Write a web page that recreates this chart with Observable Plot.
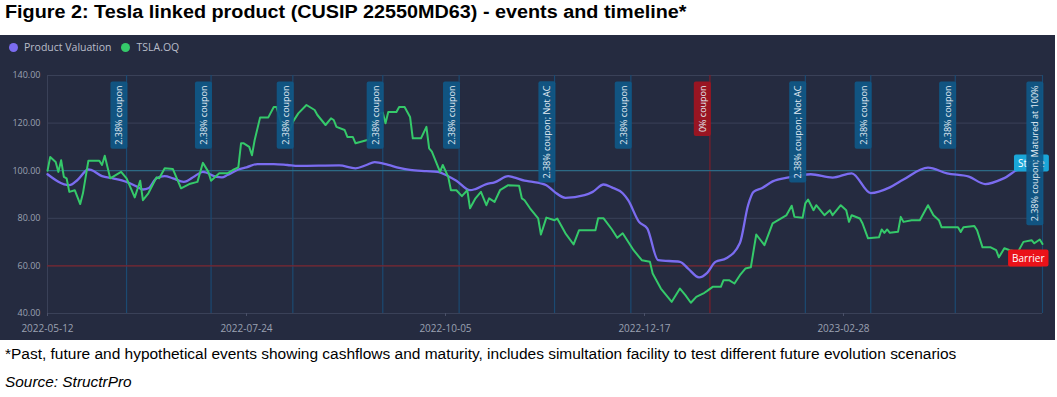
<!DOCTYPE html>
<html><head><meta charset="utf-8">
<script src="https://cdn.jsdelivr.net/npm/d3@7"></script>
<script src="https://cdn.jsdelivr.net/npm/@observablehq/plot@0.6"></script>
<style>
html,body{margin:0;padding:0;background:#fff;}
body{width:1057px;height:397px;position:relative;overflow:hidden;font-family:"Liberation Sans",Arial,sans-serif;}
#title{position:absolute;left:5px;top:2px;font-weight:bold;font-size:18px;color:#000;white-space:nowrap;transform:scaleX(1.1);transform-origin:0 0;}
#panel{position:absolute;left:0;top:35px;width:1055px;height:305px;background:#252b40;}
#legend{position:absolute;left:9px;top:5px;font-family:"Open Sans",sans-serif;font-size:10.5px;color:#b9bdc9;display:flex;align-items:center;white-space:nowrap;z-index:2;}
#legend .dot{display:inline-block;width:9px;height:9px;border-radius:50%;margin-right:6px;}
#legend .item{display:flex;align-items:center;margin-right:10px;}
#note{position:absolute;left:5px;top:346px;font-size:14px;color:#000;white-space:nowrap;transform:scaleX(1.105);transform-origin:0 0;}
#source{position:absolute;left:5px;top:374px;font-size:14px;font-style:italic;color:#000;white-space:nowrap;transform:scaleX(1.1);transform-origin:0 0;}
#err{position:absolute;left:300px;top:0;color:red;font-size:10px;}
</style>
</head><body>
<div id="title">Figure 2: Tesla linked product (CUSIP 22550MD63) - events and timeline*</div>
<div id="panel">
  <div id="legend"></div>
</div>
<div id="note">*Past, future and hypothetical events showing cashflows and maturity, includes simultation facility to test different future evolution scenarios</div>
<div id="source">Source: StructrPro</div>
<div id="err"></div>
<script>
// ---- data ----
const seriesNames = ["Product Valuation", "TSLA.OQ"];
const seriesColors = ["#7b6cf0", "#35c96a"];

const tslaDates = ["2022-05-12","2022-05-13","2022-05-15","2022-05-16","2022-05-17","2022-05-18","2022-05-19","2022-05-20","2022-05-22","2022-05-24","2022-05-25","2022-05-27","2022-05-31","2022-06-01","2022-06-02","2022-06-04","2022-06-08","2022-06-10","2022-06-13","2022-06-15","2022-06-16","2022-06-18","2022-06-21","2022-06-22","2022-06-24","2022-06-27","2022-06-30","2022-07-03","2022-07-06","2022-07-08","2022-07-10","2022-07-11","2022-07-14","2022-07-17","2022-07-19","2022-07-21","2022-07-22","2022-07-23","2022-07-25","2022-07-26","2022-07-27","2022-07-29","2022-08-01","2022-08-03","2022-08-04","2022-08-06","2022-08-07","2022-08-09","2022-08-10","2022-08-12","2022-08-15","2022-08-18","2022-08-19","2022-08-22","2022-08-24","2022-08-25","2022-08-26","2022-08-29","2022-08-30","2022-09-01","2022-09-02","2022-09-07","2022-09-08","2022-09-11","2022-09-12","2022-09-13","2022-09-14","2022-09-17","2022-09-18","2022-09-20","2022-09-22","2022-09-23","2022-09-26","2022-09-28","2022-09-29","2022-09-30","2022-10-03","2022-10-04","2022-10-06","2022-10-07","2022-10-09","2022-10-11","2022-10-13","2022-10-14","2022-10-16","2022-10-18","2022-10-20","2022-10-21","2022-10-23","2022-10-25","2022-10-28","2022-11-01","2022-11-02","2022-11-03","2022-11-05","2022-11-08","2022-11-09","2022-11-11","2022-11-14","2022-11-15","2022-11-18","2022-11-21","2022-11-23","2022-11-29","2022-11-30","2022-12-02","2022-12-05","2022-12-07","2022-12-09","2022-12-13","2022-12-16","2022-12-19","2022-12-20","2022-12-23","2022-12-27","2022-12-30","2023-01-01","2023-01-03","2023-01-05","2023-01-08","2023-01-09","2023-01-11","2023-01-14","2023-01-15","2023-01-17","2023-01-19","2023-01-21","2023-01-23","2023-01-25","2023-01-27","2023-01-30","2023-02-02","2023-02-07","2023-02-09","2023-02-10","2023-02-13","2023-02-14","2023-02-15","2023-02-17","2023-02-18","2023-02-20","2023-02-21","2023-02-23","2023-02-24","2023-02-27","2023-03-01","2023-03-02","2023-03-03","2023-03-06","2023-03-07","2023-03-09","2023-03-13","2023-03-14","2023-03-15","2023-03-16","2023-03-17","2023-03-20","2023-03-21","2023-03-22","2023-03-25","2023-03-28","2023-03-31","2023-04-02","2023-04-04","2023-04-05","2023-04-11","2023-04-12","2023-04-13","2023-04-17","2023-04-18","2023-04-20","2023-04-23","2023-04-25","2023-04-26","2023-04-28","2023-04-30","2023-05-03","2023-05-05","2023-05-08","2023-05-09","2023-05-11","2023-05-12"];
const tslaValues = [100,105.8,103.7,99.5,104.4,97.4,96.8,91.1,91.8,86,90.5,104.2,104.2,102.4,106.3,96.8,99.5,96.8,88.8,95.8,87.6,90.5,97.2,96.8,101,100.7,92.6,94.4,95.3,103.3,99.5,95.8,98.9,98.9,100.3,101.4,111.5,111.5,110,106.5,112.9,122.4,122.4,126.8,126.8,118.7,119.9,117,120.5,124.1,127.6,125.5,123.4,119.2,122,121.3,118.4,117.1,114.2,114.2,111.5,113.1,119.9,124.1,124.4,119.9,124.7,124.7,126.8,126.8,122.6,113.6,113.6,118.4,109.4,108,99.5,102.4,97.4,91.8,91.8,89.3,91.8,84.2,88.4,91.1,85.5,88.4,86.9,91.8,93.9,93.7,88.4,87.6,84.2,80,73.2,80.3,79.2,79.9,73.7,69,75,75,80,80,75.4,71.8,73.7,66.6,62.4,61.7,56.8,50.5,44.9,50.5,47.7,44.5,47,48.7,49.5,51.2,51.2,54,54,52.6,56.1,58.9,59.4,73.2,68.7,77.9,81.2,85.3,80.6,80.2,86.3,87.9,83.4,85.5,82.7,81.3,83.4,81.3,85.5,83.4,78.5,81.3,79.9,77.8,71.6,72,75.3,73.9,75.3,73.9,74.3,80.6,78.5,79.2,79.2,85.5,81.3,79.2,76.2,76.2,74.3,76.2,76.8,75,67.8,67.8,66.6,63.6,67.4,66.6,65.9,70.1,70.8,69.5,71.1,69.2];

const pvDates = ["2022-05-12","2022-05-20","2022-05-23","2022-05-27","2022-05-28","2022-06-01","2022-06-05","2022-06-10","2022-06-14","2022-06-16","2022-06-18","2022-06-21","2022-06-24","2022-06-27","2022-07-01","2022-07-05","2022-07-08","2022-07-13","2022-07-15","2022-07-17","2022-07-21","2022-07-24","2022-07-28","2022-08-03","2022-08-08","2022-08-12","2022-08-27","2022-09-02","2022-09-06","2022-09-09","2022-09-14","2022-09-18","2022-09-22","2022-09-28","2022-10-02","2022-10-06","2022-10-09","2022-10-14","2022-10-16","2022-10-20","2022-10-23","2022-10-28","2022-10-30","2022-11-03","2022-11-06","2022-11-11","2022-11-14","2022-11-18","2022-11-25","2022-11-28","2022-12-02","2022-12-05","2022-12-09","2022-12-11","2022-12-15","2022-12-18","2022-12-22","2022-12-30","2023-01-02","2023-01-06","2023-01-09","2023-01-12","2023-01-16","2023-01-21","2023-01-24","2023-01-26","2023-01-29","2023-02-02","2023-02-08","2023-02-16","2023-02-24","2023-03-03","2023-03-10","2023-03-17","2023-03-22","2023-03-31","2023-04-07","2023-04-15","2023-04-21","2023-04-28","2023-05-04","2023-05-12"];
const pvValues = [98.5,93.9,96.1,100.5,100.3,97.7,96.8,95.3,93.2,92.1,92.6,96.8,97.7,96.8,95.3,97.7,99.5,97.4,97.2,98.2,100.5,101.4,102.8,102.8,102.4,102,102.2,101,102.4,103.6,102.4,101.2,100.3,99.8,99.5,97.7,95.8,91.8,92.3,94.4,95.1,97.7,97.2,95.8,95.3,93.9,91.1,88.6,89.7,91.1,94.2,93,90.5,87.6,78.5,75.8,62.4,61.7,58.9,55.2,57.1,61.7,63.2,69.6,85.5,91.1,92.6,95.5,97.2,98.5,97.1,98.9,90.6,93,96.3,101.3,98.9,97.5,94.4,96.9,100.7,100];

const eventDates = ["2022-06-10","2022-07-11","2022-08-10","2022-09-12","2022-10-10","2022-11-14","2022-12-12","2023-01-10","2023-02-14","2023-03-10","2023-04-10","2023-05-12"];
const eventLabels = ["2.38% coupon","2.38% coupon","2.38% coupon","2.38% coupon","2.38% coupon","2.38% coupon; Not AC","2.38% coupon","0% coupon","2.38% coupon; Not AC","2.38% coupon","2.38% coupon","2.38% coupon; Matured at 100%"];
const eventKinds = ["coupon","coupon","coupon","coupon","coupon","coupon","coupon","zero","coupon","coupon","coupon","coupon"];

const levelNames = ["Strike", "Barrier"];
const levelValues = [100, 60];

const xTickLabels = ["2022-05-12","2022-07-24","2022-10-05","2022-12-17","2023-02-28"];
const yTicks = [40, 60, 80, 100, 120, 140];
const xDomainLabels = ["2022-05-12", "2023-05-12"];

// ---- build tables ----
const parse = d3.utcParse("%Y-%m-%d");
const tsla = tslaDates.map((d, i) => ({date: parse(d), value: tslaValues[i]}));
const pv = pvDates.map((d, i) => ({date: parse(d), value: pvValues[i]}));
const events = eventDates.map((d, i) => ({date: parse(d), label: eventLabels[i], kind: eventKinds[i]}));
const levels = levelNames.map((n, i) => ({name: n, value: levelValues[i]}));
const xDomain = xDomainLabels.map(parse);
const xTicks = xTickLabels.map(parse);

const kindRule = {coupon: "#1b4a72", zero: "#7d1d2a"};
const kindBox = {coupon: "#0f5887", zero: "#a3141f"};
const levelRule = {Strike: "#2b7592", Barrier: "#8a1f25"};
const levelBox = {Strike: "#1aa6d8", Barrier: "#ea1219"};

// legend
const legend = document.getElementById("legend");
seriesNames.forEach((n, i) => {
  const it = document.createElement("span");
  it.className = "item";
  it.innerHTML = `<span class="dot" style="background:${seriesColors[i]}"></span>${n}`;
  legend.appendChild(it);
});

const chart = Plot.plot({
  width: 1055,
  height: 305,
  marginLeft: 47,
  marginRight: 13,
  marginTop: 40,
  marginBottom: 27,
  style: {background: "transparent", color: "#9ba1b2", fontFamily: "'Open Sans', sans-serif", fontSize: "9px"},
  x: {type: "utc", domain: xDomain, label: null},
  y: {domain: [40, 140], label: null},
  marks: [
    Plot.gridY(yTicks, {stroke: "#3a4158", strokeOpacity: 1}),
    Plot.ruleX([xDomain[0]], {y1: 40, y2: 140, stroke: "#3a4158"}),
    Plot.ruleX(events, {x: "date", y1: 40, y2: 140, stroke: d => kindRule[d.kind], strokeWidth: 1.2}),
    Plot.ruleY(levels, {y: "value", stroke: d => levelRule[d.name], strokeWidth: 1, strokeDasharray: d => d.name === "Strike" ? "2,2" : null}),
    Plot.line(pv, {x: "date", y: "value", stroke: seriesColors[0], strokeWidth: 2.3, curve: "monotone-x"}),
    Plot.line(tsla, {x: "date", y: "value", stroke: seriesColors[1], strokeWidth: 2}),
    Plot.axisY(yTicks, {tickSize: 0, tickPadding: 7, tickFormat: d => d.toFixed(2), fontSize: 9, fill: "#9ba1b2", label: null}),
    Plot.axisX(xTicks, {tickSize: 3, tickPadding: 8, stroke: "#4a5068", tickFormat: d3.utcFormat("%Y-%m-%d"), fontSize: 10, fill: "#9ba1b2", label: null}),
    Plot.text(levels, {x: () => xDomain[1], y: "value", text: "name", textAnchor: "end", dx: 2, dy: -7, fill: "#ffffff", fontSize: 10}),
    Plot.text(events, {x: "date", text: "label", rotate: -90, frameAnchor: "top", textAnchor: "end", lineAnchor: "middle", dx: -7, dy: 10, fill: "#e4edf5", fontSize: 9})
  ]
});
document.getElementById("panel").appendChild(chart);
chart.style.position = "absolute";
chart.style.left = "0px";
chart.style.top = "0px";

function addBoxes(names, fillFn, padX, padY, opacity) {
  const texts = Array.from(chart.querySelectorAll("text")).filter(t => names.includes(t.textContent));
  texts.forEach((t, i) => {
    const b = t.getBBox();
    const r = document.createElementNS("http://www.w3.org/2000/svg", "rect");
    r.setAttribute("x", b.x - padX);
    r.setAttribute("y", b.y - padY);
    r.setAttribute("width", b.width + 2 * padX);
    r.setAttribute("height", b.height + 2 * padY);
    r.setAttribute("rx", 2);
    r.setAttribute("fill", fillFn(i));
    r.setAttribute("fill-opacity", opacity);
    r.setAttribute("stroke", "none");
    const tr = t.getAttribute("transform");
    if (tr) r.setAttribute("transform", tr);
    t.parentNode.insertBefore(r, t);
  });
}
try {
  addBoxes(levelNames, i => levelBox[levels[i].name], 4, 1.5, 1);
  addBoxes(Array.from(new Set(eventLabels)), i => kindBox[events[i].kind], 4, 2, 0.92);
} catch (e) {
  document.getElementById("err").textContent = String(e);
}
</script>
</body></html>
